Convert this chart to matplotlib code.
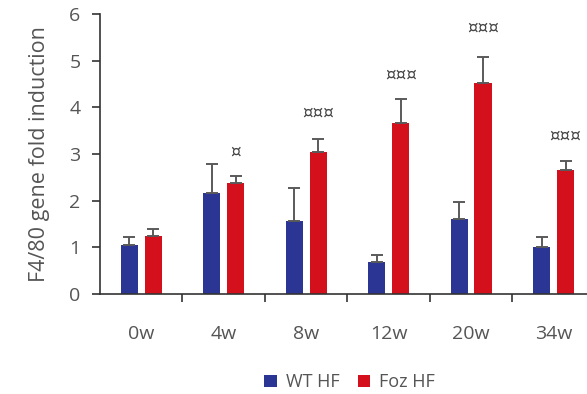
import numpy as np
import matplotlib.pyplot as plt

plt.rcParams['font.family'] = ['Open Sans', 'DejaVu Sans']

weeks = ['0w', '4w', '8w', '12w', '20w', '34w']
wt_mean = [1.05, 2.16, 1.56, 0.68, 1.61, 1.01]
wt_err = [0.17, 0.62, 0.71, 0.16, 0.36, 0.21]
foz_mean = [1.24, 2.37, 3.04, 3.66, 4.52, 2.66]
foz_err = [0.15, 0.16, 0.28, 0.51, 0.55, 0.19]
signif = ['', '¤', '¤¤¤', '¤¤¤', '¤¤¤', '¤¤¤']
signif_y = [0, 3.06, 3.88, 4.71, 5.70, 3.40]

blue = '#2b3594'
red = '#d3101b'
grey = '#555555'

fig = plt.figure(figsize=(5.87, 3.94), dpi=100)
ax = fig.add_axes([0.1704, 0.2538, 0.843, 0.7107])

x = np.arange(len(weeks))
w = 0.21
off = 0.145
ekw = dict(ecolor='#5a5a5a', elinewidth=1.4, capsize=4.5, capthick=1.4)
ax.bar(x - off, wt_mean, w, color=blue, label='WT HF',
       yerr=[np.zeros(len(wt_err)), wt_err], error_kw=ekw)
ax.bar(x + off, foz_mean, w, color=red, label='Foz HF',
       yerr=[np.zeros(len(foz_err)), foz_err], error_kw=ekw)

for i, s in enumerate(signif):
    if s:
        ax.text(x[i] + off, signif_y[i], s, ha='center', va='center',
                fontsize=12, color='#444444', family='DejaVu Sans')

ax.set_xlim(-0.5, len(weeks) - 0.5)
ax.set_ylim(0, 6)
ax.set_yticks(range(7))
ax.set_xticks(np.arange(0.5, len(weeks) - 0.5, 1))
ax.set_xticklabels([])
ax.set_xticks(x, minor=True)
ax.set_xticklabels(weeks, minor=True)
ax.tick_params(axis='x', which='major', direction='out', length=6, width=1.2, color='#333333')
ax.tick_params(axis='x', which='minor', length=0, pad=22, labelsize=14, labelcolor=grey)
ax.tick_params(axis='y', direction='out', length=6, width=1.2, color='#333333',
               labelsize=14, labelcolor=grey, pad=8)

for sp in ['top', 'right']:
    ax.spines[sp].set_visible(False)
for sp in ['left', 'bottom']:
    ax.spines[sp].set_color('#333333')
    ax.spines[sp].set_linewidth(1.2)

ax.set_ylabel('F4/80 gene fold induction', fontsize=15.5, color=grey, labelpad=14)

fig.legend(loc='center', bbox_to_anchor=(0.596, 0.03), ncol=2, frameon=False,
           fontsize=13, labelcolor=grey, handlelength=0.7, handleheight=0.7,
           columnspacing=1.0, handletextpad=0.5)

fig.savefig('out.png', dpi=100)
